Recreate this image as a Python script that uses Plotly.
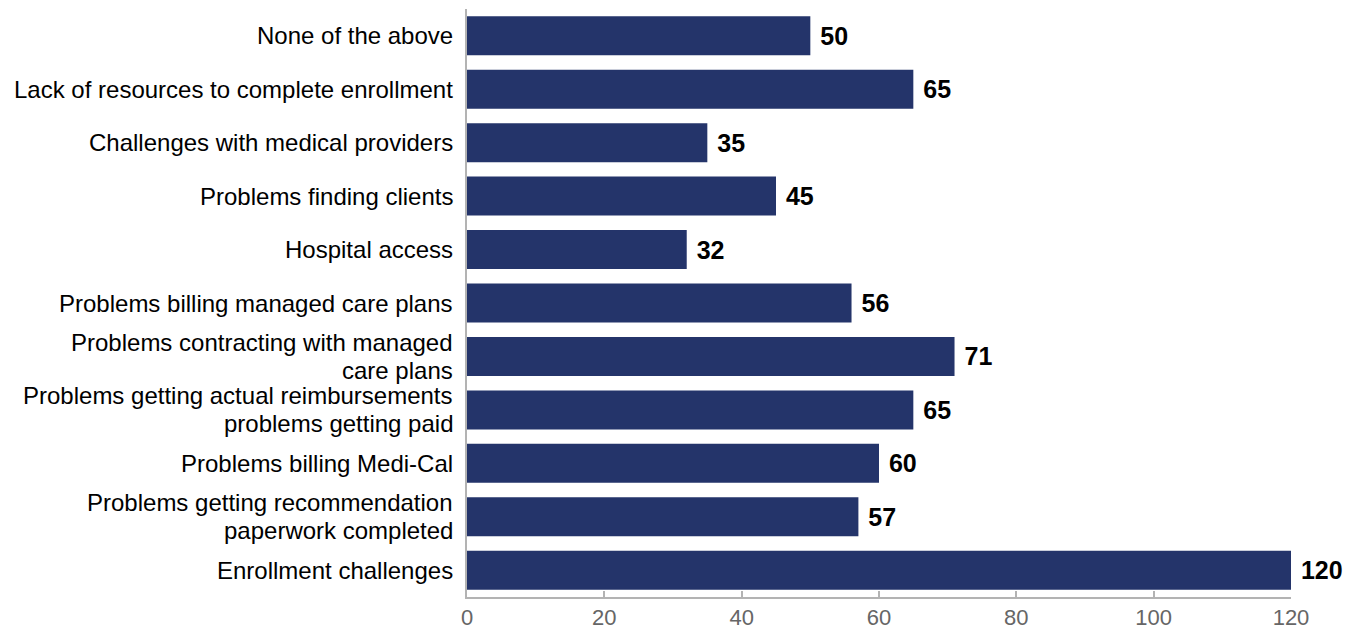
import plotly.graph_objects as go

# Survey responses: challenges reported (bottom to top as drawn)
categories = [
    "Enrollment challenges",
    "Problems getting recommendation<br>paperwork completed",
    "Problems billing Medi-Cal",
    "Problems getting actual reimbursements<br>problems getting paid",
    "Problems contracting with managed<br>care plans",
    "Problems billing managed care plans",
    "Hospital access",
    "Problems finding clients",
    "Challenges with medical providers",
    "Lack of resources to complete enrollment",
    "None of the above",
]
counts = [120, 57, 60, 65, 71, 56, 32, 45, 35, 65, 50]
tick_values = [0, 20, 40, 60, 80, 100, 120]

FONT = "Liberation Sans, Arial, Helvetica, sans-serif"
LABEL_SIZE = 24
LINE_GAP = 28  # vertical distance between wrapped label lines, px

fig = go.Figure(
    go.Bar(
        x=counts,
        y=categories,
        orientation="h",
        marker=dict(color="#24346A", line=dict(width=0)),
        text=[f"<b> {v}</b>" for v in counts],
        textposition="outside",
        textfont=dict(size=25, color="#000000", family=FONT),
        cliponaxis=False,
    )
)

# Category labels drawn line by line so wrapped labels keep a tight line spacing
for cat in categories:
    lines = cat.split("<br>")
    n = len(lines)
    for i, line in enumerate(lines):
        offset = ((n - 1) / 2 - i) * LINE_GAP
        fig.add_annotation(
            x=0,
            xref="paper",
            y=cat,
            yref="y",
            text=line,
            showarrow=False,
            xanchor="right",
            yanchor="middle",
            xshift=-12,
            yshift=offset,
            font=dict(size=LABEL_SIZE, color="#000000", family=FONT),
        )

fig.update_layout(
    width=1358,
    height=630,
    margin=dict(l=467, r=67, t=9, b=33),
    plot_bgcolor="white",
    paper_bgcolor="white",
    bargap=0.27,
    showlegend=False,
    font=dict(family=FONT, size=20, color="#000000"),
    xaxis=dict(
        range=[0, 120],
        tickvals=tick_values,
        showgrid=False,
        zeroline=False,
        showline=True,
        linecolor="#B3B3B3",
        linewidth=2,
        ticks="inside",
        ticklen=6,
        tickwidth=2,
        tickcolor="#B3B3B3",
        tickfont=dict(size=22, color="#666666", family=FONT),
        automargin=False,
    ),
    yaxis=dict(
        showgrid=False,
        zeroline=False,
        showline=True,
        linecolor="#B3B3B3",
        linewidth=2,
        ticks="",
        showticklabels=False,
        automargin=False,
    ),
)

fig.write_html("out.html")
